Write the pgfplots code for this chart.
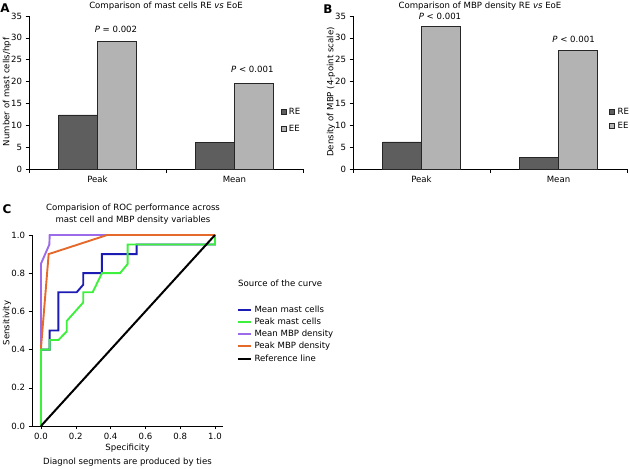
\documentclass[border=0pt]{standalone}
\usepackage{fontspec}
\setmainfont{DejaVu Sans}
\usepackage{pgfplots}
\pgfplotsset{compat=1.18}
\definecolor{reg}{HTML}{5E5E5E}
\definecolor{eeg}{HTML}{B3B3B3}
\definecolor{cblue}{HTML}{1C1CB4}
\definecolor{cgreen}{HTML}{3CF03C}
\definecolor{cpurple}{HTML}{9B6BEA}
\definecolor{corange}{HTML}{E5692A}
\newcommand{\fs}{\fontsize{8.6}{10.3}\selectfont}
\pgfplotsset{
  every axis/.append style={
    /pgf/number format/assume math mode=true,
    tick label style={font=\fs},
    tick style={black, line width=0.5bp},
    tick align=outside,
    axis line style={black, line width=0.6bp},
  },
  barax/.style={
    scale only axis, width=274bp, height=153bp, anchor=south west,
    axis x line*=bottom, axis y line*=left,
    xmin=-0.5, xmax=1.5, ymin=0, ymax=35,
    ytick={0,5,...,35},
    xtick={0,1}, xticklabels={Peak,Mean},
    major x tick style={draw=none},
    minor xtick={-0.5,0.5,1.5},
    major tick length=3.5bp, minor tick length=4bp,
    ybar=0pt, bar width=39bp, clip=false,
    legend style={draw=none, fill=none, anchor=north west,
      font=\fs, inner sep=0pt,
      nodes={inner xsep=2.8bp, inner ysep=1.5bp}},
    legend cell align=left,
  },
  sq/.style={legend image code/.code={\draw[##1, line width=0.4bp] (0bp,-2.5bp) rectangle (5bp,2.5bp);}},
}
\begin{document}
\begin{tikzpicture}[x=1bp,y=1bp]
\useasboundingbox (0,0) rectangle (630,469);
% ---------- Panel A ----------
\begin{axis}[barax, at={(29bp,300bp)},
  legend style={at={(0.918,0.41)}, row sep=6.5bp}]
\addplot[fill=reg, draw=black!85, line width=0.4bp, sq] coordinates {(0,12.4) (1,6.1)};
\addplot[fill=eeg, draw=black!85, line width=0.4bp, sq] coordinates {(0,29.2) (1,19.6)};
\legend{RE,EE}
\node[font=\fs, anchor=south] at (axis cs:0.135,30.3) {\textit{P} = 0.002};
\node[font=\fs, anchor=south] at (axis cs:1.13,21.3) {\textit{P} < 0.001};
\end{axis}
% ---------- Panel B ----------
\begin{axis}[barax, at={(353bp,300bp)},
  legend style={at={(0.935,0.41)}, row sep=3.5bp}]
\addplot[fill=reg, draw=black!85, line width=0.4bp, sq] coordinates {(0,6.2) (1,2.7)};
\addplot[fill=eeg, draw=black!85, line width=0.4bp, sq] coordinates {(0,32.7) (1,27.1)};
\legend{RE,EE}
\node[font=\fs, anchor=south] at (axis cs:0.135,33.3) {\textit{P} < 0.001};
\node[font=\fs, anchor=south] at (axis cs:1.11,28.0) {\textit{P} < 0.001};
\end{axis}
% ---------- Panel C ----------
\begin{axis}[at={(32bp,43bp)}, anchor=south west, scale only axis,
  width=191bp, height=191bp,
  xmin=-0.0517, xmax=1.046, ymin=0, ymax=1,
  axis x line*=bottom, axis y line*=left,
  xtick={0,0.2,0.4,0.6,0.8,1}, ytick={0,0.2,0.4,0.6,0.8,1},
  xticklabel style={/pgf/number format/.cd, fixed, fixed zerofill, precision=1},
  yticklabel style={/pgf/number format/.cd, fixed, fixed zerofill, precision=1},
  major tick length=3.5bp,
  clip=false,
  legend style={draw=none, fill=none, at={(1.07,0.635)}, anchor=north west,
    font=\fs, inner sep=0pt, row sep=2.6bp,
    nodes={inner xsep=3bp, inner ysep=0.8bp}},
  legend cell align=left,
  legend image code/.code={\draw[#1] (0bp,0bp) -- (13bp,0bp);},
]
\addplot[cblue, line width=1.9bp, forget plot] coordinates {(0,0) (0,0.4) (0.05,0.4) (0.05,0.5) (0.1,0.5) (0.1,0.7) (0.205,0.7) (0.243,0.74) (0.243,0.8) (0.35,0.8) (0.35,0.9) (0.55,0.9) (0.55,0.95) (1,0.95) (1,1)};
\addplot[cpurple, line width=1.9bp, forget plot] coordinates {(0,0) (0,0.4) (0,0.85) (0.048,0.95) (0.05,1) (1,1)};
\addplot[corange, line width=1.9bp, forget plot] coordinates {(0,0) (0,0.41) (0.044,0.9) (0.381,1) (1,1)};
\addplot[cgreen, line width=1.9bp, forget plot] coordinates {(0,0) (0,0.4) (0.05,0.4) (0.05,0.45) (0.1,0.45) (0.148,0.495) (0.148,0.55) (0.243,0.647) (0.243,0.7) (0.297,0.7) (0.35,0.8) (0.454,0.8) (0.498,0.848) (0.498,0.95) (1,0.95) (1,1)};
\addplot[black, line width=2bp, forget plot] coordinates {(0,0) (1,1)};
\addlegendimage{cblue, line width=1.9bp}
\addlegendentry{Mean mast cells}
\addlegendimage{cgreen, line width=1.9bp}
\addlegendentry{Peak mast cells}
\addlegendimage{cpurple, line width=1.9bp}
\addlegendentry{Mean MBP density}
\addlegendimage{corange, line width=1.9bp}
\addlegendentry{Peak MBP density}
\addlegendimage{black, line width=2bp}
\addlegendentry{Reference line}
\end{axis}
% ---------- texts ----------
\begin{scope}[every node/.style={inner sep=0pt, font=\fs}]
\node at (166,469-6) {Comparison of mast cells RE \textit{vs} EoE};
\node at (480,469-6) {Comparison of MBP density RE \textit{vs} EoE};
\node[rotate=90] at (7,469-92) {Number of mast cells/hpf};
\node[rotate=90] at (331,469-92) {Density of MBP (4-point scale)};
\node[align=center] at (133,469-214) {Comparision of ROC performance across\\[1.5bp]mast cell and MBP density variables};
\node[rotate=90] at (7,469-323) {Sensitivity};
\node at (127.5,469-448) {Specificity};
\node at (127.5,469-462) {Diagnol segments are produced by ties};
\node[anchor=west] at (238,469-283) {Source of the curve};
\end{scope}
\begin{scope}[every node/.style={inner sep=0pt, font=\bfseries\fontsize{12}{12}\selectfont}]
\node at (5,469-8.5) {A};
\node at (328,469-9) {B};
\node at (7,469-209) {C};
\end{scope}
\end{tikzpicture}
\end{document}
